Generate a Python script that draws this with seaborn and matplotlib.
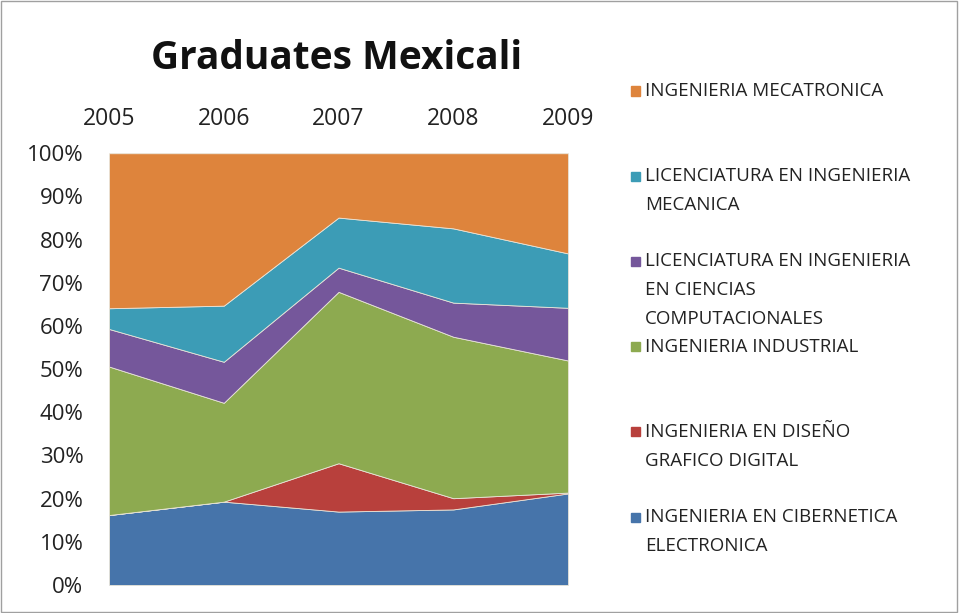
import matplotlib
matplotlib.use("Agg")
import matplotlib.pyplot as plt
from matplotlib.patches import Rectangle
from matplotlib.ticker import PercentFormatter
import seaborn as sns
import numpy as np

years = ["2005", "2006", "2007", "2008", "2009"]
series_names = [
    "INGENIERIA EN CIBERNETICA\nELECTRONICA",
    "INGENIERIA EN DISEÑO\nGRAFICO DIGITAL",
    "INGENIERIA INDUSTRIAL",
    "LICENCIATURA EN INGENIERIA\nEN CIENCIAS\nCOMPUTACIONALES",
    "LICENCIATURA EN INGENIERIA\nMECANICA",
    "INGENIERIA MECATRONICA",
]
cibernetica = [16.2, 19.3, 17.0, 17.5, 21.2]
diseno = [0.0, 0.0, 11.2, 2.6, 0.2]
industrial = [34.4, 22.9, 39.7, 37.4, 30.6]
computacionales = [8.7, 9.5, 5.6, 7.9, 12.2]
mecanica = [4.8, 13.0, 11.6, 17.2, 12.6]
mecatronica = [35.9, 35.3, 14.9, 17.4, 23.2]

colors = ["#4674AA", "#B8403C", "#8DAA50", "#75579B", "#3C9CB6", "#DE843C"]

sns.set_theme(style="white")
plt.rcParams["font.family"] = ["Open Sans", "DejaVu Sans"]

fig = plt.figure(figsize=(9.59, 6.13), dpi=100)
ax = fig.add_axes([0.1137, 0.0457, 0.4786, 0.7043])

data = np.array([cibernetica, diseno, industrial, computacionales, mecanica, mecatronica])
totals = data.sum(axis=0)
shares = data / totals * 100
x = np.arange(len(years))
ax.stackplot(x, shares, colors=colors, edgecolor="#E8E4D8", linewidth=0.6)

ax.set_xlim(0, len(years) - 1)
ax.set_ylim(0, 100)
ax.set_xticks(x)
ax.set_xticklabels(years)
ax.xaxis.tick_top()
ax.set_yticks(np.arange(0, 101, 10))
ax.yaxis.set_major_formatter(PercentFormatter(decimals=0))
ax.tick_params(axis="x", length=0, pad=16, labelsize=16.5, colors="#222222")
ax.tick_params(axis="y", length=0, pad=18.5, labelsize=16, colors="#222222")
for s in ax.spines.values():
    s.set_visible(False)

fig.text(0.351, 0.905, "Graduates Mexicali", ha="center", va="center",
         fontsize=28, fontweight="bold", color="#111111")

# legend (top entry first, matching the reference order)
W, H = 959, 613
slot0 = 91
slot = 85.2
line_h = 29
for i, idx in enumerate(range(len(series_names) - 1, -1, -1)):
    yc = slot0 + i * slot
    fig.patches.append(Rectangle(((631) / W, 1 - (yc + 4.5) / H), 9 / W, 9 / H,
                                 transform=fig.transFigure, color=colors[idx]))
    for j, line in enumerate(series_names[idx].split("\n")):
        fig.text(645 / W, 1 - (yc + j * line_h) / H, line, ha="left", va="center",
                 fontsize=13.5, color="#222222")

fig.patches.append(Rectangle((0.001, 0.001), 0.997, 0.997, transform=fig.transFigure,
                             fill=False, edgecolor="#A0A0A0", linewidth=1))

fig.savefig("out.png", dpi=100)
